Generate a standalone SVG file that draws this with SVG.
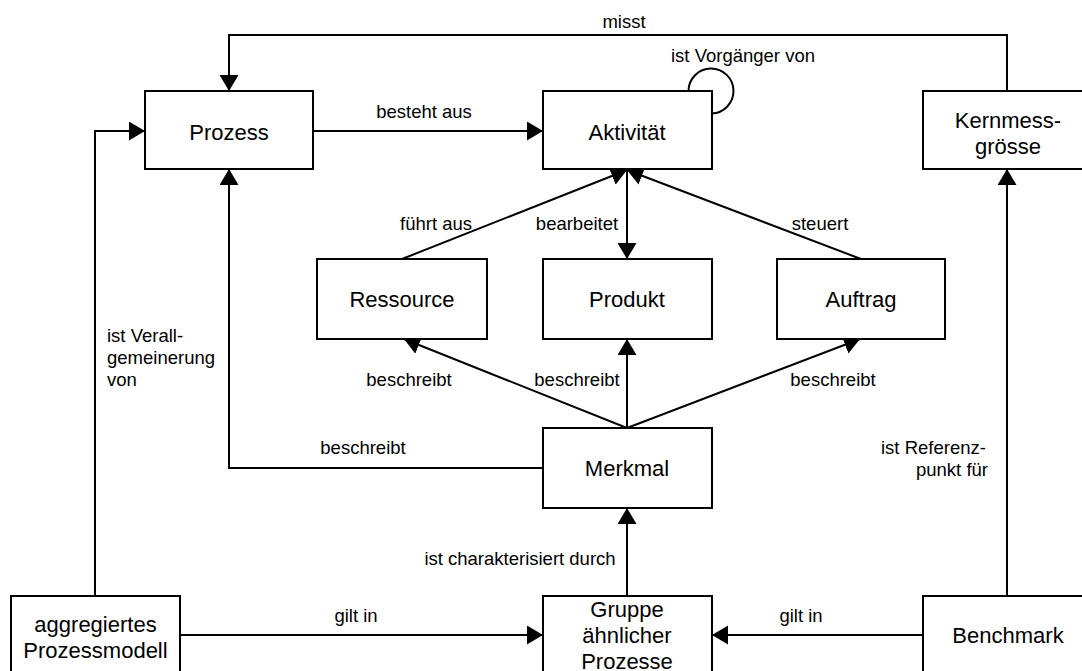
<svg xmlns="http://www.w3.org/2000/svg" width="1082" height="671" viewBox="0 0 1082 671">
  <style>
    .box { fill: #ffffff; stroke: #000000; stroke-width: 2; }
    .node-text { font-family: "Liberation Sans", Arial, sans-serif; font-size: 22px; fill: #000000; text-anchor: middle; }
    .label { font-family: "Liberation Sans", Arial, sans-serif; font-size: 18.5px; fill: #000000; }
    .mid { text-anchor: middle; }
    .edge { fill: none; stroke: #000000; stroke-width: 2; }
    .arrow { marker-end: url(#head); }
  </style>
  <defs>
    <marker id="head" markerUnits="userSpaceOnUse" markerWidth="17" markerHeight="20" refX="16" refY="9.5" orient="auto">
      <path d="M0,0 L16,9.5 L0,19 Z" fill="#000000"/>
    </marker>
  </defs>

  <rect width="1082" height="671" fill="#ffffff"/>

  <!-- connectors -->
  <g id="connectors">
    <!-- Kernmessgrösse misst Prozess -->
    <path class="edge arrow" d="M1007,91 L1007,35 L229,35 L229,91"/>
    <!-- Prozess besteht aus Aktivität -->
    <path class="edge arrow" d="M313,131 L543,131"/>
    <!-- Aktivität ist Vorgänger von Aktivität -->
    <path class="edge" d="M688.5,91 A22.5,22.5 0 1 1 711.7,113.5"/>
    <!-- aggregiertes Prozessmodell ist Verallgemeinerung von Prozess -->
    <path class="edge arrow" d="M95,596 L95,131 L145,131"/>
    <!-- Ressource führt aus Aktivität -->
    <path class="edge arrow" d="M402,259 L627,170"/>
    <!-- Aktivität bearbeitet Produkt -->
    <path class="edge arrow" d="M627,169 L627,259"/>
    <!-- Auftrag steuert Aktivität -->
    <path class="edge arrow" d="M861,259 L627,170"/>
    <!-- Merkmal beschreibt Ressource / Produkt / Auftrag -->
    <path class="edge arrow" d="M627,428 L404,339"/>
    <path class="edge arrow" d="M627,428 L627,339"/>
    <path class="edge arrow" d="M627,428 L860,339"/>
    <!-- Merkmal beschreibt Prozess -->
    <path class="edge arrow" d="M543,468 L229,468 L229,169"/>
    <!-- Gruppe ähnlicher Prozesse ist charakterisiert durch Merkmal -->
    <path class="edge arrow" d="M627,596 L627,508"/>
    <!-- aggregiertes Prozessmodell gilt in Gruppe -->
    <path class="edge arrow" d="M180,635 L543,635"/>
    <!-- Benchmark gilt in Gruppe -->
    <path class="edge arrow" d="M923,635 L712,635"/>
    <!-- Benchmark ist Referenzpunkt für Kernmessgrösse -->
    <path class="edge arrow" d="M1007,596 L1007,169"/>

    <text class="label mid" x="624" y="28">misst</text>
    <text class="label mid" x="424" y="118">besteht aus</text>
    <text class="label mid" x="743" y="62">ist Vorgänger von</text>
    <text class="label mid" x="436" y="230">führt aus</text>
    <text class="label mid" x="577" y="230">bearbeitet</text>
    <text class="label mid" x="820" y="230">steuert</text>
    <text class="label mid" x="409" y="386">beschreibt</text>
    <text class="label mid" x="577" y="386">beschreibt</text>
    <text class="label mid" x="833" y="386">beschreibt</text>
    <text class="label mid" x="363" y="454">beschreibt</text>
    <text class="label" x="107" y="342">ist Verall-</text>
    <text class="label" x="107" y="364">gemeinerung</text>
    <text class="label" x="107" y="386">von</text>
    <text class="label" x="881" y="454">ist Referenz-</text>
    <text class="label" x="916" y="476">punkt für</text>
    <text class="label mid" x="520" y="565">ist charakterisiert durch</text>
    <text class="label mid" x="356" y="622">gilt in</text>
    <text class="label mid" x="801" y="622">gilt in</text>
  </g>

  <!-- nodes -->
  <g id="node-prozess">
    <rect class="box" x="145" y="91" width="168" height="78"/>
    <text class="node-text" x="229" y="140">Prozess</text>
  </g>
  <g id="node-aktivitaet">
    <rect class="box" x="543" y="91" width="169" height="78"/>
    <text class="node-text" x="627" y="140">Aktivität</text>
  </g>
  <g id="node-kernmessgroesse">
    <rect class="box" x="923" y="91" width="170" height="78"/>
    <text class="node-text" x="1008" y="128">Kernmess-</text>
    <text class="node-text" x="1008" y="154">grösse</text>
  </g>
  <g id="node-ressource">
    <rect class="box" x="317" y="259" width="170" height="80"/>
    <text class="node-text" x="402" y="307">Ressource</text>
  </g>
  <g id="node-produkt">
    <rect class="box" x="543" y="259" width="169" height="80"/>
    <text class="node-text" x="627" y="307">Produkt</text>
  </g>
  <g id="node-auftrag">
    <rect class="box" x="777" y="259" width="168" height="80"/>
    <text class="node-text" x="861" y="307">Auftrag</text>
  </g>
  <g id="node-merkmal">
    <rect class="box" x="543" y="428" width="169" height="80"/>
    <text class="node-text" x="627" y="476">Merkmal</text>
  </g>
  <g id="node-aggregiertes-prozessmodell">
    <rect class="box" x="11" y="596" width="169" height="80"/>
    <text class="node-text" x="95.5" y="632">aggregiertes</text>
    <text class="node-text" x="95.5" y="658">Prozessmodell</text>
  </g>
  <g id="node-gruppe">
    <rect class="box" x="543" y="596" width="169" height="80"/>
    <text class="node-text" x="627" y="617">Gruppe</text>
    <text class="node-text" x="627" y="643">ähnlicher</text>
    <text class="node-text" x="627" y="669">Prozesse</text>
  </g>
  <g id="node-benchmark">
    <rect class="box" x="923" y="596" width="170" height="80"/>
    <text class="node-text" x="1008" y="643">Benchmark</text>
  </g>
</svg>
